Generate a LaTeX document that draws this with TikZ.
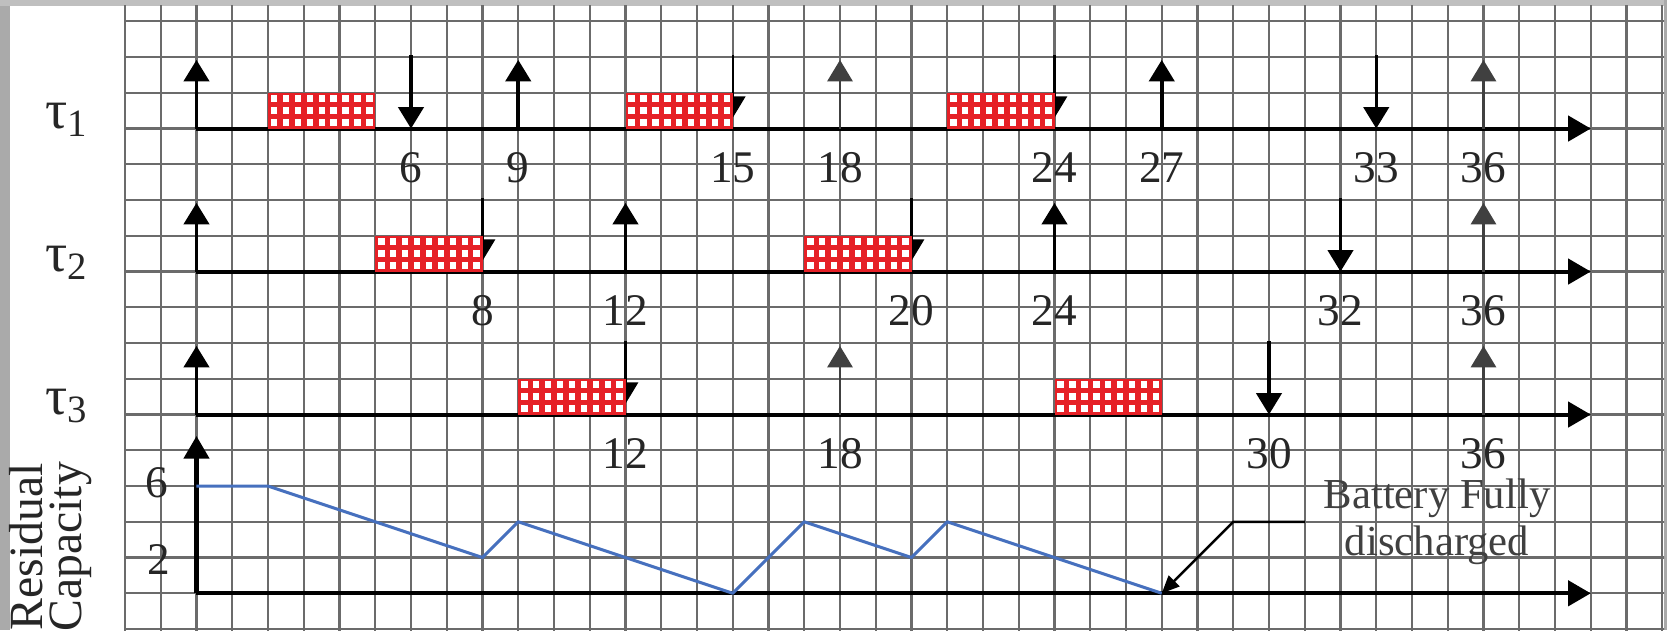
\documentclass[tikz,border=0pt]{standalone}
\usepackage{fontspec}
\setmainfont{Liberation Serif}
\usetikzlibrary{arrows.meta,positioning,calc}
\definecolor{jobred}{RGB}{230,32,38}
\definecolor{battblue}{RGB}{70,112,190}
\definecolor{framegray}{RGB}{170,170,170}
\tikzset{
  gridln/.style={black!58,line width=0.9pt},
  taxis/.style={-{Triangle[length=9pt,width=10pt]},line width=1.6pt},
  relarr/.style={-{Triangle[length=8.5pt,width=10pt]},line width=1.4pt},
  litearr/.style={relarr,line width=0.9pt,black!75},
  dlarr/.style={-{Triangle[length=8.5pt,width=10pt]},line width=1.4pt},
  hidarr/.style={dlarr,line width=0.9pt},
  numlbl/.style={font=\fontsize{18}{20}\selectfont,inner sep=0pt,text=black!85},
  tasklbl/.style={font=\fontsize{22}{24}\selectfont,inner sep=0pt,anchor=base,text=black!85},
  battln/.style={battblue,line width=1.2pt,line join=round},
  notearr/.style={-{Triangle[length=7pt,width=6pt]},line width=1pt},
  notelbl/.style={font=\fontsize{17}{18.6}\selectfont,text=black!75,align=center,inner sep=0pt}
}
% one job of three time units on the row whose axis is at #2
\newcommand{\jobbox}[2]{%
  \fill[jobred] (#1,#2) rectangle ++(3,1);
  \foreach \i in {0,...,8}
    \foreach \j in {0,1,2}
      \fill[white] ({#1+\i/3+0.08},{#2+\j/3+0.08}) rectangle ++(0.18,0.18);
}

\begin{document}
\begin{tikzpicture}[x=0.5cm,y=0.5cm]
  \useasboundingbox (-5.4965,-1.0266) rectangle (41.133,16.596);
  \fill[white] (-5.4965,-1.0266) rectangle (41.133,16.596);
  \fill[framegray] (-5.4965,-1.0266) rectangle (-5.217,16.596);
  \fill[framegray!75] (-5.4965,16.43) rectangle (41.133,16.596);
  \fill[framegray] (41.05,-1.0266) rectangle (41.133,16.596);

  % grid paper
  \begin{scope}
    \clip (-2.05,-1.0266) rectangle (41.05,16.43);
    \foreach \x in {-2,...,41} \draw[gridln] (\x,-1.1) -- (\x,16.5);
    \foreach \y in {-1,...,16} \draw[gridln] (-2,\y) -- (41.2,\y);
  \end{scope}

  \coordinate (ax1) at (0,13);
  \coordinate (ax2) at (0,9);
  \coordinate (ax3) at (0,5);
  \coordinate (axb) at (0,0);
  \foreach \a in {ax1,ax2,ax3,axb} \draw[taxis] (\a) -- ++(39,0);

  % tau 1
  \foreach \tm in {0,9,27} \draw[relarr] (\tm,13) -- ++(0,1.92);
  \foreach \tm in {18,36} \draw[litearr] (\tm,13) -- ++(0,1.92);
  \foreach \tm in {6,33} \draw[dlarr] (\tm,15.05) -- (\tm,13);
  \foreach \tm in {15,24} \draw[hidarr] (\tm,15.05) -- (\tm,13.3);
  \foreach \tm in {2,12,21} \jobbox{\tm}{13};
  \foreach \tm in {6,9,15,18,24,27,33,36} \node[numlbl] (lbla\tm) at (\tm,11.9) {\tm};

  % tau 2
  \foreach \tm in {0,12,24} \draw[relarr] (\tm,9) -- ++(0,1.92);
  \draw[litearr] (36,9) -- ++(0,1.92);
  \draw[dlarr] (32,11.05) -- (32,9);
  \foreach \tm in {8,20} \draw[hidarr] (\tm,11.05) -- (\tm,9.3);
  \foreach \tm in {5,17} \jobbox{\tm}{9};
  \foreach \tm in {8,12,20,24,32,36} \node[numlbl] (lblb\tm) at (\tm,7.9) {\tm};

  % tau 3
  \draw[relarr] (0,5) -- ++(0,1.92);
  \foreach \tm in {18,36} \draw[litearr] (\tm,5) -- ++(0,1.92);
  \draw[dlarr] (30,7.05) -- (30,5);
  \draw[hidarr] (12,7.05) -- (12,5.3);
  \foreach \tm in {9,24} \jobbox{\tm}{5};
  \foreach \tm in {12,18,30,36} \node[numlbl] (lblc\tm) at (\tm,3.9) {\tm};

  % battery
  \draw[taxis] (axb) -- ++(0,4.4);
  \draw[battln] (0,3) -- (2,3) -- (8,1) -- (9,2) -- (15,0) -- (17,2) -- (20,1) -- (21,2) -- (27,0);
  \node[numlbl] (cap6) at (-1.1,3.1) {6};
  \node[numlbl] (cap2) at (-1.05,0.95) {2};
  \coordinate (empty) at (27,0);
  \coordinate (notefoot) at (31,2);
  \draw[notearr] (notefoot) -- ++(-2,0) -- (empty);
  \node[notelbl] (note) at (34.7,2.0) {Battery Fully\\discharged};

  \node[tasklbl] (tau1) at (-3.62,13) {τ\textsubscript{1}};
  \node[tasklbl] (tau2) at (-3.62,9) {τ\textsubscript{2}};
  \node[tasklbl] (tau3) at (-3.62,5) {τ\textsubscript{3}};
  \node[rotate=90,font=\fontsize{19}{15.5}\selectfont,align=center,inner sep=0pt,text=black!85] (rescap) at (-4.07,1.3) {Residual\\Capacity};
\end{tikzpicture}
\end{document}
